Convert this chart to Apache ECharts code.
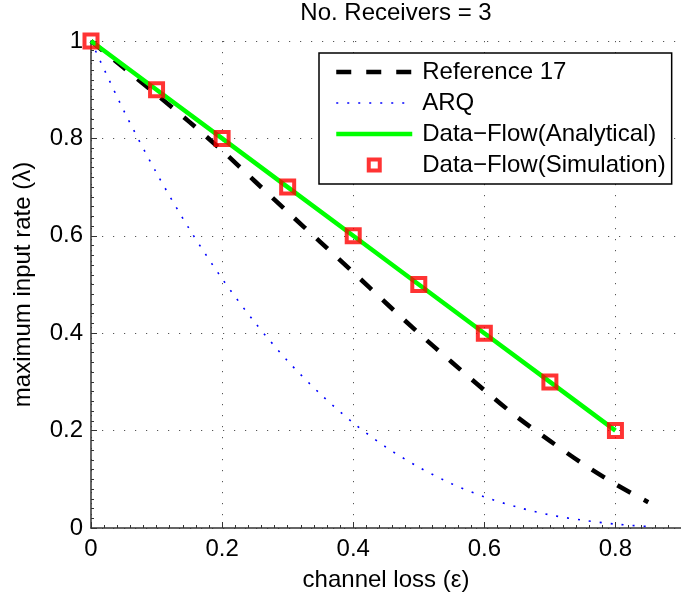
<!DOCTYPE html>
<html>
<head>
<meta charset="utf-8">
<script src="https://cdn.jsdelivr.net/npm/echarts@6/dist/echarts.min.js"></script>
<style>
html,body{margin:0;padding:0;background:#fff;}
#chart{width:681px;height:600px;}
</style>
</head>
<body>
<div id="chart"></div>
<script>
// ---- data ----
const titleText = 'No. Receivers = 3';
const xName = 'channel loss (\u03b5)';
const yName = 'maximum input rate (\u03bb)';
const seriesNames = ['Reference 17', 'ARQ', 'Data\u2212Flow(Analytical)', 'Data\u2212Flow(Simulation)'];

const curveX = [0, 0.05, 0.1, 0.15, 0.2, 0.25, 0.3, 0.35, 0.4, 0.45, 0.5, 0.55, 0.6, 0.65, 0.7, 0.75, 0.8, 0.85];
const reference17 = [1.0, 0.945, 0.89, 0.834, 0.775, 0.712, 0.649, 0.587, 0.525, 0.462, 0.40, 0.341, 0.283, 0.228, 0.179, 0.132, 0.09, 0.053];
const arq = [1.0, 0.857, 0.729, 0.614, 0.512, 0.422, 0.343, 0.275, 0.216, 0.166, 0.125, 0.091, 0.064, 0.043, 0.027, 0.016, 0.008, 0.003];

const dfX = [0, 0.1, 0.2, 0.3, 0.4, 0.5, 0.6, 0.7, 0.8];
const dfAnalytical = [1.0, 0.9, 0.8, 0.7, 0.6, 0.5, 0.4, 0.3, 0.2];
const dfSimulation = [1.0, 0.9, 0.8, 0.7, 0.6, 0.5, 0.4, 0.3, 0.2];

const xTicks = [0, 0.2, 0.4, 0.6, 0.8];
const yTicks = [0, 0.2, 0.4, 0.6, 0.8, 1];

const pairs = (xs, ys) => xs.map((x, i) => [x, ys[i]]);

const FONT = 'Liberation Sans, Arial, Helvetica, sans-serif';
const FS = 24;
const chart = echarts.init(document.getElementById('chart'), null, {renderer: 'canvas'});

const gridLine = {show: true, lineStyle: {color: '#555', width: 1, type: [1.2, 9.8]}};
const hiddenSymbol = {color: 'rgba(0,0,0,0)', borderColor: 'rgba(0,0,0,0)', borderWidth: 0};

const refStyle = {color: '#000', width: 4.5, type: [15, 15]};
const arqStyle = {color: '#0000ff', width: 1.6, type: [2, 9]};
const dfStyle = {color: '#00ff00', width: 4.5, type: 'solid'};
const simStyle = {color: 'rgba(255,255,255,0)', borderColor: '#ff0000', borderWidth: 4};

chart.setOption({
  animation: false,
  backgroundColor: '#fff',
  title: {
    text: titleText,
    left: 391, top: -4,
    textAlign: 'center',
    textStyle: {fontFamily: FONT, fontSize: FS, fontWeight: 'normal', color: '#000'}
  },
  grid: {left: 91, top: 41, width: 596, height: 487, containLabel: false},
  legend: {
    orient: 'vertical',
    left: 319, top: 53,
    padding: [7, 6, 7, 15],
    itemGap: 7,
    itemWidth: 76, itemHeight: 11,
    borderColor: '#000', borderWidth: 1.5,
    backgroundColor: '#fff',
    textStyle: {fontFamily: FONT, fontSize: FS, color: '#000', lineHeight: 24, padding: [0, 0, 0, 5]},
    data: [
      {name: seriesNames[0], itemStyle: hiddenSymbol, lineStyle: refStyle},
      {name: seriesNames[1], itemStyle: hiddenSymbol, lineStyle: arqStyle},
      {name: seriesNames[2], itemStyle: hiddenSymbol, lineStyle: dfStyle},
      {name: seriesNames[3], icon: 'path://M0,0L10,0L10,10L0,10Z', itemStyle: simStyle}
    ]
  },
  xAxis: {
    type: 'value', min: 0, max: 0.9, interval: 0.2,
    name: xName, nameLocation: 'middle', nameGap: 40,
    nameTextStyle: {fontFamily: FONT, fontSize: FS, color: '#000'},
    axisLine: {show: true, onZero: false, lineStyle: {color: '#333', width: 1.5}},
    axisTick: {show: true, inside: true, length: 6, lineStyle: {color: '#333'}},
    minorTick: {show: true, splitNumber: 10, length: 3, lineStyle: {color: '#333'}},
    axisLabel: {
      fontFamily: FONT, fontSize: FS, color: '#000', margin: 9, showMaxLabel: false,
      formatter: v => (xTicks.includes(+v.toFixed(2)) ? String(+v.toFixed(2)) : '')
    },
    splitLine: gridLine
  },
  yAxis: {
    type: 'value', min: 0, max: 1, interval: 0.2,
    name: yName, nameLocation: 'middle', nameGap: 56, nameRotate: 90,
    nameTextStyle: {fontFamily: FONT, fontSize: FS, color: '#000'},
    axisLine: {show: true, onZero: false, lineStyle: {color: '#333', width: 1.5}},
    axisTick: {show: true, inside: true, length: 6, lineStyle: {color: '#333'}},
    minorTick: {show: true, splitNumber: 10, length: 3, lineStyle: {color: '#333'}},
    axisLabel: {
      fontFamily: FONT, fontSize: FS, color: '#000', margin: 8,
      formatter: v => (yTicks.includes(+v.toFixed(2)) ? String(+v.toFixed(2)) : '')
    },
    splitLine: gridLine
  },
  series: [
    {
      name: seriesNames[0], type: 'line', data: pairs(curveX, reference17),
      symbol: 'none', smooth: 0.3, z: 2,
      lineStyle: refStyle, itemStyle: {color: '#000'}
    },
    {
      name: seriesNames[1], type: 'line', data: pairs(curveX, arq),
      symbol: 'none', smooth: 0.3, z: 2,
      lineStyle: arqStyle, itemStyle: {color: '#0000ff'}
    },
    {
      name: seriesNames[2], type: 'line', data: pairs(dfX, dfAnalytical),
      symbol: 'none', z: 3,
      lineStyle: dfStyle, itemStyle: {color: '#00ff00'}
    },
    {
      name: seriesNames[3], type: 'scatter', data: pairs(dfX, dfSimulation),
      symbol: 'rect', symbolSize: 13, z: 4,
      itemStyle: simStyle
    }
  ]
});
</script>
</body>
</html>
